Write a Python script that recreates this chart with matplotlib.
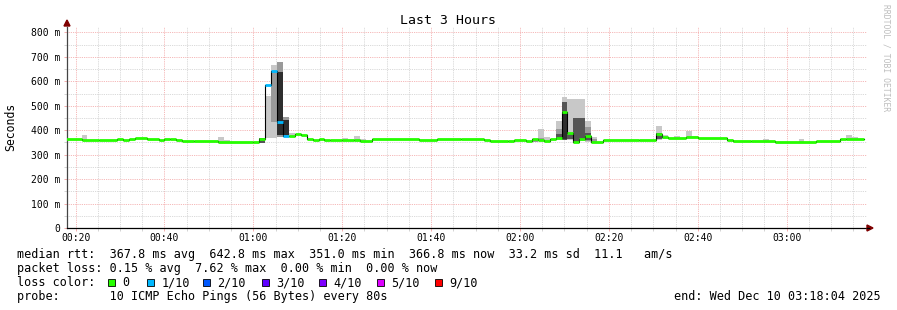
import matplotlib
matplotlib.use("Agg")
import matplotlib.pyplot as plt
from matplotlib.patches import Rectangle, Polygon
from matplotlib.ticker import MultipleLocator, FixedLocator
import numpy as np

# ---------------- data ----------------
seg_start = ["00:17:20", "00:21:20", "00:25:20", "00:29:20", "00:30:40", "00:32:00",
             "00:33:20", "00:36:00", "00:38:40", "00:40:00", "00:41:20", "00:42:40",
             "00:44:00", "00:46:40", "00:52:00", "01:00:00", "01:01:20", "01:02:40",
             "01:04:00", "01:05:20", "01:06:40", "01:08:00", "01:09:20", "01:10:40",
             "01:12:00", "01:13:20", "01:14:40", "01:16:00", "01:17:20", "01:20:00",
             "01:22:40", "01:24:00", "01:26:40", "01:37:20", "01:41:20", "01:46:40",
             "01:52:00", "01:53:20", "01:57:20", "01:58:40", "02:01:20", "02:02:40",
             "02:04:00", "02:05:20", "02:06:40", "02:08:00", "02:09:20", "02:10:40",
             "02:12:00", "02:13:20", "02:14:40", "02:16:00", "02:18:40", "02:26:40",
             "02:30:40", "02:32:00", "02:33:20", "02:37:20", "02:40:00", "02:46:40",
             "02:48:00", "02:52:00", "02:57:20", "03:06:40", "03:12:00", "03:13:20"]
seg_median = [364, 361, 360, 364, 360, 365, 368, 364, 361, 364, 362, 359,
              356, 354, 353, 351, 364, 585, 642.8, 435, 378, 378, 386, 382,
              364, 360, 364, 361, 360, 359, 360, 357, 364, 358, 364, 362,
              361, 357, 356, 360, 356, 366, 360, 356, 362, 369, 474, 390,
              351, 366, 375, 352, 359, 361, 386, 374, 367, 371, 369, 360,
              357, 354, 351, 357, 362, 366]
seg_loss = [0] * 17 + [1, 1, 1, 1] + [0] * 45
data_end = "03:17:20"

# smoke (ping spread) bands: start of 80 s step, low, high, shade level
smoke_start = ["00:21:20", "00:52:00", "00:53:20", "01:01:20", "01:02:40", "01:04:00",
               "01:04:00", "01:05:20", "01:05:20", "01:06:40", "01:06:40", "01:08:00",
               "01:20:00", "01:22:40", "01:24:00", "02:02:40", "02:04:00", "02:04:00",
               "02:05:20", "02:08:00", "02:08:00", "02:08:00", "02:09:20", "02:09:20",
               "02:09:20", "02:10:40", "02:10:40", "02:12:00", "02:12:00", "02:13:20",
               "02:13:20", "02:14:40", "02:14:40", "02:14:40", "02:16:00", "02:16:00",
               "02:30:40", "02:30:40", "02:32:00", "02:34:40", "02:37:20", "02:38:40",
               "02:54:40", "03:02:40", "03:13:20", "03:14:40"]
smoke_lo = [361, 351, 351, 348, 368, 368,
            434, 372, 380, 372, 380, 372,
            359, 360, 357, 352, 356, 356,
            355, 358, 362, 365, 358, 360,
            362, 358, 365, 350, 352, 355,
            360, 352, 355, 360, 352, 352,
            360, 364, 362, 367, 369, 369,
            354, 351, 366, 366]
smoke_hi = [380, 372, 358, 368, 540, 667,
            640, 678, 640, 455, 442, 390,
            368, 377, 364, 366, 405, 368,
            371, 439, 405, 385, 537, 515,
            476, 526, 387, 526, 449, 526,
            449, 438, 415, 390, 373, 362,
            418, 388, 382, 377, 398, 375,
            366, 363, 382, 372]
smoke_shade = [0, 0, 0, 2, 0, 0,
               1, 1, 3, 1, 3, 0,
               0, 0, 0, 1, 0, 1,
               0, 0, 1, 2, 0, 2,
               3, 0, 2, 0, 2, 0,
               2, 0, 1, 2, 0, 1,
               0, 2, 0, 0, 0, 0,
               0, 0, 0, 0]

loss_levels = [0, 1, 2, 3, 4, 5, 9]
loss_labels = ["0", "1/10", "2/10", "3/10", "4/10", "5/10", "9/10"]
loss_colors = ["#26ff00", "#00b8ff", "#0059ff", "#5e00ff", "#7e00ff", "#dd00ff", "#ff0000"]

x_tick_labels = ["00:20", "00:40", "01:00", "01:20", "01:40", "02:00", "02:20", "02:40", "03:00"]
y_tick_values = [0, 100, 200, 300, 400, 500, 600, 700, 800]
y_tick_labels = ["0", "100 m", "200 m", "300 m", "400 m", "500 m", "600 m", "700 m", "800 m"]

graph_start = "00:18:04"
graph_end = "03:18:04"

rtt_stats = ["367.8", "642.8", "351.0", "366.8", "33.2", "11.1"]
loss_stats = ["0.15", "7.62", "0.00", "0.00"]

# ---------------- helpers ----------------
W, H = 897, 310
MONO = "DejaVu Sans Mono"
STEP = 80 / 60.0


def tmin(s):
    h, m, sec = (int(v) for v in s.split(":"))
    return h * 60 + m + sec / 60.0


def fx(x):
    return x / W


def fy(y):
    return 1 - y / H


fig = plt.figure(figsize=(W / 100, H / 100), dpi=100, facecolor="white")
ax = fig.add_axes([fx(67), fy(228), 800 / W, 201 / H])
ax.set_facecolor("white")

t0, t1 = tmin(graph_start), tmin(graph_end)
ax.set_xlim(t0, t1)
ax.set_ylim(0, 822)

# grid
ax.set_axisbelow(True)
ax.xaxis.set_major_locator(FixedLocator([tmin(s + ":00") for s in x_tick_labels]))
ax.xaxis.set_minor_locator(MultipleLocator(5))
ax.set_xticklabels(x_tick_labels, fontsize=7, family=MONO)
ax.yaxis.set_major_locator(FixedLocator(y_tick_values))
ax.set_yticklabels(y_tick_labels, fontsize=7, family=MONO)
ax.yaxis.set_minor_locator(MultipleLocator(50))
dash = (0, (1.0, 1.2))
ax.grid(which="minor", color="#cccccc", lw=0.6, linestyle=dash)
ax.grid(which="major", color="#f2a0a0", lw=0.6, linestyle=dash)
ax.tick_params(which="both", length=2, width=0.6, direction="out")
ax.tick_params(which="major", color="#f2a0a0")
ax.tick_params(which="minor", color="#cccccc")
ax.tick_params(axis="y", pad=3)
ax.tick_params(axis="x", pad=1.5)

for s in ("top", "right"):
    ax.spines[s].set_visible(False)
ax.spines["left"].set_color("#444444")
ax.spines["bottom"].set_color("black")
ax.spines["left"].set_linewidth(0.9)
ax.spines["bottom"].set_linewidth(0.9)

# smoke
shade_colors = ["#c8c8c8", "#9a9a9a", "#555555", "#2e2e2e"]
ss = np.array([tmin(s) for s in smoke_start])
lo = np.array(smoke_lo, float)
hi = np.array(smoke_hi, float)
ax.bar(ss, hi - lo, bottom=lo, width=STEP, align="edge",
       color=[shade_colors[k] for k in smoke_shade], lw=0, zorder=2)

# median
starts = np.array([tmin(s) for s in seg_start])
ends = np.append(starts[1:], tmin(data_end))
med = np.array(seg_median, float)
ax.step(np.append(starts, ends[-1]), np.append(med, med[-1]), where="post",
        color="black", lw=0.8, zorder=3)
cmap = dict(zip(loss_levels, loss_colors))
ax.hlines(med, starts, ends, colors=[cmap[l] for l in seg_loss], lw=2.0,
          zorder=4, capstyle="butt")

# arrows
fig.patches.append(Polygon([[fx(867), fy(225)], [fx(873), fy(228)], [fx(867), fy(231)]],
                           closed=True, transform=fig.transFigure, color="#7f0000"))
fig.patches.append(Polygon([[fx(64), fy(26)], [fx(67), fy(20)], [fx(70), fy(26)]],
                           closed=True, transform=fig.transFigure, color="#7f0000"))
fig.add_artist(plt.Line2D([fx(867), fx(869)], [fy(228), fy(228)], color="black", lw=0.9))

# texts
fig.text(fx(448), fy(24), "Last 3 Hours", ha="center", va="baseline",
         fontsize=9.5, family=MONO)
fig.text(fx(11), fy(127), "Seconds", rotation=90, ha="center", va="center",
         fontsize=8.3, family=MONO)
fig.text(fx(886), fy(4), "RRDTOOL / TOBI OETIKER", rotation=270, ha="center", va="top",
         fontsize=5.8, family=MONO, color="#bdbdbd")

line1 = ("median rtt:  %s ms avg  %s ms max  %s ms min  %s ms now  %s ms sd  %s   am/s"
         % tuple(rtt_stats))
line2 = "packet loss: %s %% avg  %s %% max  %s %% min  %s %% now" % tuple(loss_stats)
fs = 8.5
fig.text(fx(16.5), fy(258), line1, fontsize=fs, family=MONO, va="baseline")
fig.text(fx(16.5), fy(272), line2, fontsize=fs, family=MONO, va="baseline")
fig.text(fx(16.5), fy(286), "loss color:", fontsize=fs, family=MONO, va="baseline")
box_x = [108, 147, 203, 262, 319, 377, 435]
for bx, lab, col in zip(box_x, loss_labels, loss_colors):
    fig.patches.append(Rectangle((fx(bx), fy(285.5)), 7 / W, 7 / H, transform=fig.transFigure,
                                 facecolor=col, edgecolor="black", lw=0.6))
    fig.text(fx(bx + 14.5), fy(286), lab, fontsize=fs, family=MONO, va="baseline")
fig.text(fx(16.5), fy(300), "probe:       10 ICMP Echo Pings (56 Bytes) every 80s",
         fontsize=fs, family=MONO, va="baseline")
fig.text(fx(881), fy(300), "end: Wed Dec 10 03:18:04 2025", fontsize=fs, family=MONO,
         va="baseline", ha="right")

fig.savefig("out.png", dpi=100, facecolor="white")
